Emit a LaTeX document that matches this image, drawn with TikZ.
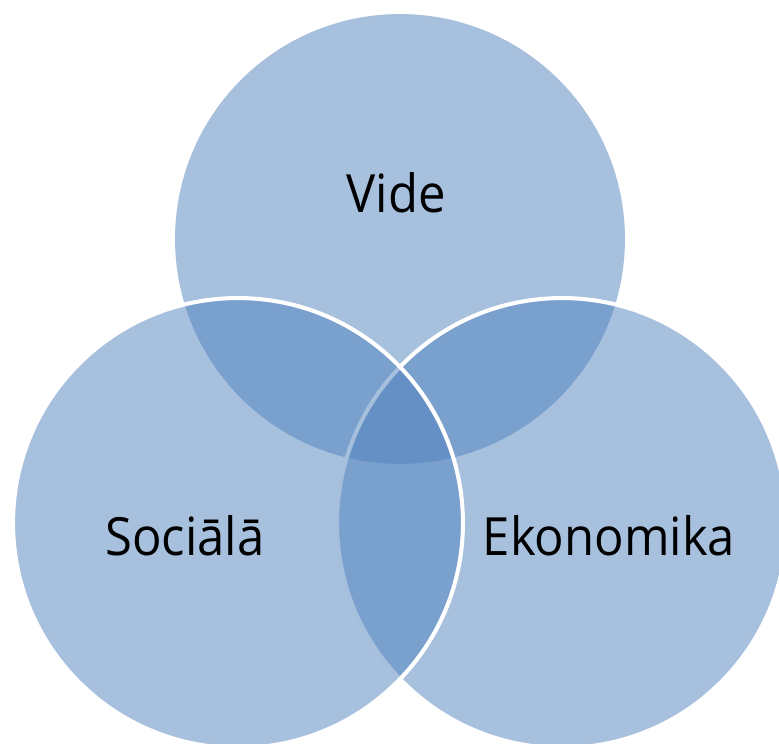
\documentclass[tikz,border=0pt]{standalone}
\usepackage{fontspec}
\setmainfont[FakeStretch=0.93]{Open Sans}
\definecolor{vennblue}{HTML}{4F81BD}
\begin{document}
\begin{tikzpicture}[x=0.02cm,y=-0.02cm,set node/.style={circle,inner sep=0pt,minimum size=9cm,fill=vennblue,fill opacity=0.5},rim/.style={draw=white,line width=2.3pt},label node/.style={anchor=base,inner sep=0pt,text=black,font=\fontsize{30}{36}\selectfont}]
                \clip (0,0) rectangle (779,744);
                \node[set node] (vide) at (400,239) {};
                \node[set node,rim] (ekonomika) at (562,523) {};
                \node[set node,rim] (sociala) at (238,523) {};

                \node[label node] (videtext) at (396,212) {Vide};
                \node[label node] (socialatext) at (185,555) {Sociālā};
                \node[label node] (ekonomikatext) at (609,555) {Ekonomika};
            \end{tikzpicture}
\end{document}
